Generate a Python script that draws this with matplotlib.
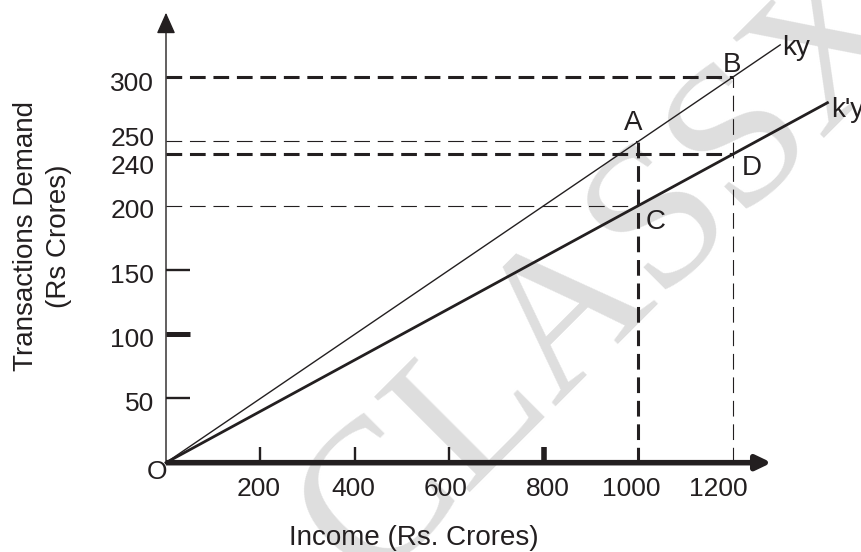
import numpy as np
import matplotlib.pyplot as plt
from matplotlib.transforms import ScaledTranslation

plt.rcParams['font.family'] = ['Liberation Sans', 'DejaVu Sans']
plt.rcParams['lines.scale_dashes'] = False

# transactions demand lines (ky steeper than k'y)
ky_x = [0, 1300]
ky_y = [0, 325]
kpy_x = [0, 1400]
kpy_y = [0, 280]

# marked points
pt_names = ['A', 'B', 'C', 'D']
pt_x = [1000, 1200, 1000, 1200]
pt_y = [250, 300, 200, 240]

x_ticks = [200, 400, 600, 800, 1000, 1200]
y_ticks = [50, 100, 150, 200, 240, 250, 300]

ink = '#231f20'

fig = plt.figure(figsize=(8.61, 5.52), dpi=100)
ax = fig.add_axes([0.1928, 0.1618, 0.8072, 0.8382])
ax.set_xlim(0, 1471)
ax.set_ylim(0, 359.9)
ax.patch.set_visible(False)
for s in ax.spines.values():
    s.set_visible(False)

# watermark
ax.text(0.64, 0.41, 'CLASSX', transform=ax.transAxes, rotation=45,
        fontsize=148, family='Liberation Serif', color='#dedede',
        ha='center', va='center', zorder=0, clip_on=False)

# axes with arrow heads
ax.annotate('', xy=(0, 350), xytext=(0, 0), annotation_clip=False,
            arrowprops=dict(arrowstyle='-|>,head_length=13,head_width=5.8',
                            mutation_scale=1, lw=1.0, color=ink,
                            shrinkA=0, shrinkB=0), zorder=5)
ax.annotate('', xy=(1282, 0), xytext=(0, 0), annotation_clip=False,
            arrowprops=dict(arrowstyle='-|>,head_length=9,head_width=4.3',
                            mutation_scale=1, lw=4.0, color=ink,
                            shrinkA=0, shrinkB=0, capstyle='butt'), zorder=5)

# guide lines to the points
h_lw = [0.8, 2.2, 0.8, 2.2]
for px, py, w in zip(pt_x, pt_y, h_lw):
    ax.plot([0, px], [py, py], color=ink, lw=w, ls=(0, (11.3, 5.6)), clip_on=False)
ax.plot([pt_x[0], pt_x[0]], [0, pt_y[0]], color=ink, lw=2.2, ls=(0, (11.3, 5.6)), clip_on=False)
ax.plot([pt_x[1], pt_x[1]], [0, pt_y[1]], color=ink, lw=0.8, ls=(0, (11.3, 5.6)), clip_on=False)

# the two demand lines
ax.plot(ky_x, ky_y, color=ink, lw=1.0, clip_on=False)
ax.plot(kpy_x, kpy_y, color=ink, lw=2.0, clip_on=False)
ax.annotate('ky', (ky_x[-1], ky_y[-1]), xytext=(1.5, -2), textcoords='offset points',
            fontsize=20, color=ink, ha='left', va='center')
ax.annotate("k'y", (kpy_x[-1], kpy_y[-1]), xytext=(3, -5), textcoords='offset points',
            fontsize=20, color=ink, ha='left', va='center')

offsets = [(-3.6, 13), (-0.7, 8.6), (12, -12), (13.5, -10)]
for name, px, py, off in zip(pt_names, pt_x, pt_y, offsets):
    ax.annotate(name, (px, py), xytext=off, textcoords='offset points',
                fontsize=20, color=ink, ha='center', va='center')

ax.annotate('O', (0, 0), xytext=(-6.5, -6.7), textcoords='offset points',
            fontsize=19, color=ink, ha='center', va='center', zorder=1)

# ticks
ax.set_xticks(x_ticks)
ax.set_yticks(y_ticks)
ax.tick_params(axis='x', direction='in', length=11.5, width=1.7, color=ink,
               labelsize=19, labelcolor=ink, pad=10)
ax.tick_params(axis='y', direction='in', length=17.5, width=1.7, color=ink,
               labelsize=19, labelcolor=ink, pad=8.5)
x_tick_w = [1.7, 1.7, 1.7, 4.0, 0, 0]
x_lab_dx = [-0.015, -0.02, -0.04, 0.035, -0.075, -0.15]
for t, w, dx in zip(ax.xaxis.get_major_ticks(), x_tick_w, x_lab_dx):
    t.tick1line.set_markeredgewidth(w)
    t.tick1line.set_visible(w > 0)
    t.label1.set_transform(t.label1.get_transform() + ScaledTranslation(dx, 0, fig.dpi_scale_trans))
y_tick_w = [1.7, 3.6, 1.7, 0, 0, 0, 0]
# 240 / 250 labels are spread apart
y_lab_dy = [-0.035, -0.035, -0.035, -0.025, -0.10, 0.048, -0.04]
for t, w, dy in zip(ax.yaxis.get_major_ticks(), y_tick_w, y_lab_dy):
    t.tick1line.set_markeredgewidth(w)
    t.tick1line.set_visible(w > 0)
    t.label1.set_transform(t.label1.get_transform() + ScaledTranslation(0, dy, fig.dpi_scale_trans))

ax.set_xlabel('Income (Rs. Crores)', fontsize=20, color=ink)
ax.xaxis.set_label_coords(0.357, -0.163)
ax.xaxis.label.set_va('center')
ax.set_ylabel('Transactions Demand\n(Rs Crores)', fontsize=20, color=ink, linespacing=1.35)
ax.yaxis.set_label_coords(-0.178, 0.489)
ax.yaxis.label.set_va('center')

plt.savefig('out.png', dpi=100)
